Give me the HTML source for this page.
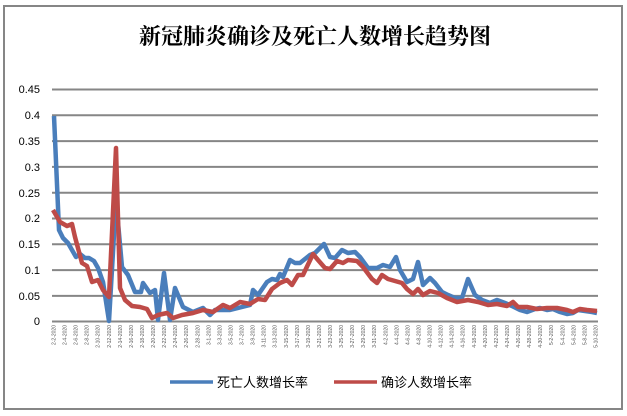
<!DOCTYPE html>
<html><head><meta charset="utf-8"><style>
body{margin:0;background:#fff;}
svg{display:block;font-family:"Liberation Sans","Noto Sans CJK SC",sans-serif;}
</style></head><body>
<svg width="627" height="416" viewBox="0 0 627 416" xmlns="http://www.w3.org/2000/svg">
<rect x="0" y="0" width="627" height="416" fill="#fff"/>
<rect x="4" y="6" width="618" height="403" fill="none" stroke="#868686" stroke-width="2"/>
<text x="315" y="44" text-anchor="middle" font-size="22" font-family="'Liberation Serif','Noto Serif CJK SC',serif" font-weight="bold" fill="#000">新冠肺炎确诊及死亡人数增长趋势图</text>
<g stroke="#868686" stroke-width="2">
<line x1="52" y1="89.5" x2="598" y2="89.5"/>
<line x1="52" y1="115.3" x2="598" y2="115.3"/>
<line x1="52" y1="141.1" x2="598" y2="141.1"/>
<line x1="52" y1="166.9" x2="598" y2="166.9"/>
<line x1="52" y1="192.7" x2="598" y2="192.7"/>
<line x1="52" y1="218.5" x2="598" y2="218.5"/>
<line x1="52" y1="244.3" x2="598" y2="244.3"/>
<line x1="52" y1="270.1" x2="598" y2="270.1"/>
<line x1="52" y1="295.9" x2="598" y2="295.9"/>
<line x1="52" y1="321.5" x2="598" y2="321.5"/>
</g>
<g font-size="11" fill="#000" text-anchor="end">
<text x="40" y="93">0.45</text>
<text x="40" y="119">0.4</text>
<text x="40" y="145">0.35</text>
<text x="40" y="171">0.3</text>
<text x="40" y="197">0.25</text>
<text x="40" y="222">0.2</text>
<text x="40" y="248">0.15</text>
<text x="40" y="274">0.1</text>
<text x="40" y="300">0.05</text>
<text x="40" y="325">0</text>
</g>
<polyline fill="none" stroke="#4a7ebb" stroke-width="4.5" stroke-linejoin="round" points="54,116 59,230 63,238 68,243 72,250 76,257 80,254 85,258 89,258 94,261 98,268 103,282 109,321 116,200 122,267 128,275 135,292 141,292 143,283 150,293 155,290 158,320 164,273 170,320 175,288 183,307 193,312 203,308 210,315 215,310 230,310 250,305 253,290 258,295 267,282 272,279 277,280 280,274 283,277 290,260 295,263 300,263 310,255 315,253 324,244 330,257 335,258 342,250 348,253 355,252 360,257 368,268 377,268 383,265 390,267 396,257 400,270 407,282 413,279 418,262 423,285 430,278 435,283 442,292 448,295 455,298 462,298 468,279 475,295 482,300 490,303 497,300 505,303 512,306 520,310 527,312 535,309 540,308 547,310 553,309 560,312 567,314 573,313 578,310 585,311 592,312 597,313"/>
<polyline fill="none" stroke="#be4b48" stroke-width="4.5" stroke-linejoin="round" points="53,210 60,222 67,226 72,224 75,237 82,263 87,266 92,282 98,280 103,290 109,297 116,148 120,288 125,300 132,306 140,307 147,309 152,318 158,315 167,313 173,318 182,315 193,313 203,310 213,312 223,305 230,308 240,302 250,304 258,299 265,300 272,289 280,283 287,280 292,285 298,275 303,275 313,254 318,260 325,268 330,269 337,261 343,263 348,260 357,261 363,267 372,279 377,283 382,275 388,279 402,283 407,289 413,294 418,289 423,295 430,291 438,293 447,298 457,302 468,300 478,302 488,305 497,304 507,306 513,302 518,307 527,307 537,309 547,308 557,308 567,310 573,312 580,309 587,310 597,311"/>
<g font-size="5" fill="#555" text-anchor="end">
<text transform="translate(55.5,325) rotate(-90)">2-2-2020</text>
<text transform="translate(66.6,325) rotate(-90)">2-4-2020</text>
<text transform="translate(77.6,325) rotate(-90)">2-6-2020</text>
<text transform="translate(88.7,325) rotate(-90)">2-8-2020</text>
<text transform="translate(99.7,325) rotate(-90)">2-10-2020</text>
<text transform="translate(110.8,325) rotate(-90)">2-12-2020</text>
<text transform="translate(121.9,325) rotate(-90)">2-14-2020</text>
<text transform="translate(132.9,325) rotate(-90)">2-16-2020</text>
<text transform="translate(144,325) rotate(-90)">2-18-2020</text>
<text transform="translate(155,325) rotate(-90)">2-20-2020</text>
<text transform="translate(166.1,325) rotate(-90)">2-22-2020</text>
<text transform="translate(177.2,325) rotate(-90)">2-24-2020</text>
<text transform="translate(188.2,325) rotate(-90)">2-26-2020</text>
<text transform="translate(199.3,325) rotate(-90)">2-28-2020</text>
<text transform="translate(210.3,325) rotate(-90)">3-1-2020</text>
<text transform="translate(221.4,325) rotate(-90)">3-3-2020</text>
<text transform="translate(232.5,325) rotate(-90)">3-5-2020</text>
<text transform="translate(243.5,325) rotate(-90)">3-7-2020</text>
<text transform="translate(254.6,325) rotate(-90)">3-9-2020</text>
<text transform="translate(265.6,325) rotate(-90)">3-11-2020</text>
<text transform="translate(276.7,325) rotate(-90)">3-13-2020</text>
<text transform="translate(287.8,325) rotate(-90)">3-15-2020</text>
<text transform="translate(298.8,325) rotate(-90)">3-17-2020</text>
<text transform="translate(309.9,325) rotate(-90)">3-19-2020</text>
<text transform="translate(320.9,325) rotate(-90)">3-21-2020</text>
<text transform="translate(332,325) rotate(-90)">3-23-2020</text>
<text transform="translate(343.1,325) rotate(-90)">3-25-2020</text>
<text transform="translate(354.1,325) rotate(-90)">3-27-2020</text>
<text transform="translate(365.2,325) rotate(-90)">3-29-2020</text>
<text transform="translate(376.2,325) rotate(-90)">3-31-2020</text>
<text transform="translate(387.3,325) rotate(-90)">4-2-2020</text>
<text transform="translate(398.4,325) rotate(-90)">4-4-2020</text>
<text transform="translate(409.4,325) rotate(-90)">4-6-2020</text>
<text transform="translate(420.5,325) rotate(-90)">4-8-2020</text>
<text transform="translate(431.5,325) rotate(-90)">4-10-2020</text>
<text transform="translate(442.6,325) rotate(-90)">4-12-2020</text>
<text transform="translate(453.7,325) rotate(-90)">4-14-2020</text>
<text transform="translate(464.7,325) rotate(-90)">4-16-2020</text>
<text transform="translate(475.8,325) rotate(-90)">4-18-2020</text>
<text transform="translate(486.8,325) rotate(-90)">4-20-2020</text>
<text transform="translate(497.9,325) rotate(-90)">4-22-2020</text>
<text transform="translate(509,325) rotate(-90)">4-24-2020</text>
<text transform="translate(520,325) rotate(-90)">4-26-2020</text>
<text transform="translate(531.1,325) rotate(-90)">4-28-2020</text>
<text transform="translate(542.1,325) rotate(-90)">4-30-2020</text>
<text transform="translate(553.2,325) rotate(-90)">5-2-2020</text>
<text transform="translate(564.3,325) rotate(-90)">5-4-2020</text>
<text transform="translate(575.3,325) rotate(-90)">5-6-2020</text>
<text transform="translate(586.4,325) rotate(-90)">5-8-2020</text>
<text transform="translate(597.4,325) rotate(-90)">5-10-2020</text>
</g>
<line x1="170" y1="382" x2="213" y2="382" stroke="#4a7ebb" stroke-width="3.5"/>
<text x="217" y="387" font-size="13" fill="#000">死亡人数增长率</text>
<line x1="334" y1="382" x2="377" y2="382" stroke="#be4b48" stroke-width="3.5"/>
<text x="381" y="387" font-size="13" fill="#000">确诊人数增长率</text>
</svg>
</body></html>
